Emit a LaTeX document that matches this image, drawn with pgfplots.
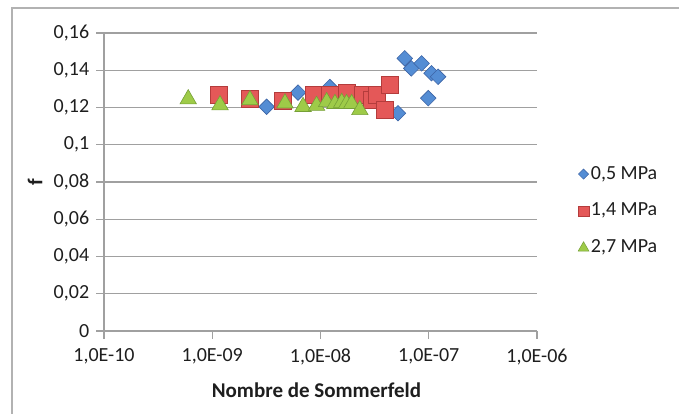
\documentclass[border=0pt]{standalone}
\usepackage{pgfplots}
\pgfplotsset{compat=1.18}
\usepackage{fontspec}
\setmainfont{Carlito}

\definecolor{bluefill}{RGB}{84,141,212}
\definecolor{blueline}{RGB}{60,100,165}
\definecolor{redfill}{RGB}{228,88,88}
\definecolor{redline}{RGB}{180,60,60}
\definecolor{greenfill}{RGB}{158,203,72}
\definecolor{greenline}{RGB}{118,160,55}
\definecolor{axgray}{RGB}{160,160,160}
\definecolor{txt}{RGB}{30,30,30}

\begin{document}
\begin{tikzpicture}[x=1pt,y=1pt]
\fontsize{20}{24}\selectfont
\useasboundingbox (0,0) rectangle (679,414);
% cadre du graphique (coupe a droite et en bas)
\draw[gray!60, line width=1.5pt] (12,0) -- (12,406) -- (679,406);

\begin{axis}[
    at={(104pt,83pt)}, anchor=south west,
    scale only axis, width=433pt, height=298pt,
    xmode=log,
    xmin=1e-10, xmax=1e-6,
    ymin=0, ymax=0.16,
    xtick={1e-10,1e-9,1e-8,1e-7,1e-6},
    xticklabels={{1,0E-10},{1,0E-09},{1,0E-08},{1,0E-07},{1,0E-06}},
    xminorticks=false,
    ytick={0,0.02,0.04,0.06,0.08,0.1,0.12,0.14,0.16},
    yticklabels={0,{0,02},{0,04},{0,06},{0,08},{0,1},{0,12},{0,14},{0,16}},
    axis x line*=bottom, axis y line*=left,
    axis line style={axgray, line width=1.2pt, -},
    tick align=outside,
    major tick length=8pt,
    tick style={axgray, line width=1.2pt},
    ymajorgrids,
    grid style={axgray, line width=1.2pt},
    ticklabel style={font=\fontsize{20}{24}\selectfont, text=txt},
    xticklabel style={yshift=-3pt},
    xlabel={\textbf{Nombre de Sommerfeld}},
    ylabel={\textbf{f}},
    label style={font=\fontsize{21}{24}\selectfont, text=txt},
    xlabel style={at={(axis description cs:0.5,0)}, anchor=center, yshift=-59pt, xshift=-4pt},
    ylabel style={at={(axis description cs:0,0.5)}, anchor=center, yshift=69pt},
    legend style={at={(axis description cs:1,0.5)}, anchor=west,
        xshift=38pt, yshift=-29pt, draw=none, fill=none,
        font=\fontsize{20}{24}\selectfont, text=txt, row sep=17pt,
        /tikz/every even column/.append style={column sep=9pt}},
    clip=false,
]

% 0,5 MPa
\addplot[only marks, mark=square*, mark size=5.5pt,
    mark options={rotate=45, fill=bluefill, draw=blueline, line width=0.6pt},
    legend image code/.code={\draw[mark=square*, mark size=3.6pt,
        mark options={rotate=45, fill=bluefill, draw=blueline, line width=0.5pt}]
        plot coordinates {(0pt,0pt)};}]
coordinates {
    (3.18e-9,0.1204)
    (6.2e-9,0.128)
    (1.22e-8,0.131)
    (5.2e-8,0.1169)
    (6.0e-8,0.1464)
    (6.9e-8,0.141)
    (8.6e-8,0.1437)
    (9.9e-8,0.125)
    (1.06e-7,0.1384)
    (1.22e-7,0.1365)
};
\addlegendentry{0,5 MPa}

% 1,4 MPa
\addplot[only marks, mark=square*, mark size=8.5pt,
    mark options={fill=redfill, draw=redline, line width=0.6pt},
    legend image code/.code={\draw[mark=square*, mark size=5.2pt,
        mark options={fill=redfill, draw=redline, line width=0.5pt}]
        plot coordinates {(0pt,0pt)};}]
coordinates {
    (1.14e-9,0.1267)
    (2.23e-9,0.1245)
    (4.5e-9,0.1235)
    (8.6e-9,0.1267)
    (1.22e-8,0.1267)
    (1.74e-8,0.128)
    (2.48e-8,0.1267)
    (2.97e-8,0.124)
    (3.3e-8,0.1267)
    (4.37e-8,0.132)
    (3.9e-8,0.1187)
};
\addlegendentry{1,4 MPa}

% 2,7 MPa
\addplot[only marks, mark=triangle*, mark size=9.5pt,
    mark options={fill=greenfill, draw=greenline, line width=0.6pt},
    legend image code/.code={\draw[mark=triangle*, mark size=6.2pt,
        mark options={fill=greenfill, draw=greenline, line width=0.5pt}]
        plot coordinates {(0pt,0pt)};}]
coordinates {
    (6.0e-10,0.1245)
    (1.18e-9,0.1213)
    (2.23e-9,0.124)
    (4.7e-9,0.1223)
    (6.9e-9,0.1204)
    (9.2e-9,0.121)
    (1.14e-8,0.123)
    (1.36e-8,0.122)
    (1.57e-8,0.1226)
    (1.74e-8,0.122)
    (1.94e-8,0.122)
    (2.31e-8,0.1187)
};
\addlegendentry{2,7 MPa}

\end{axis}
\end{tikzpicture}
\end{document}
